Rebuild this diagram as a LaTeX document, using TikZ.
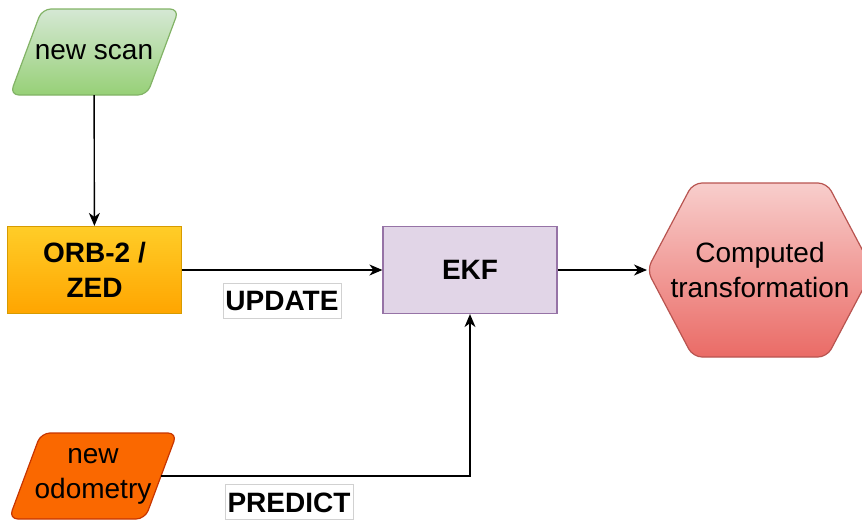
\documentclass[tikz,border=0pt]{standalone}
\usepackage{fontspec}
\setmainfont{Liberation Sans}
\usetikzlibrary{arrows.meta}
\definecolor{scantop}{HTML}{D5E8D4}
\definecolor{scanbot}{HTML}{97D077}
\definecolor{scanline}{HTML}{82B366}
\definecolor{orbtop}{HTML}{FFCD28}
\definecolor{orbbot}{HTML}{FFA500}
\definecolor{orbline}{HTML}{D79B00}
\definecolor{ekffill}{HTML}{E1D5E7}
\definecolor{ekfline}{HTML}{9673A6}
\definecolor{outtop}{HTML}{F8CECC}
\definecolor{outbot}{HTML}{EA6B66}
\definecolor{outline}{HTML}{B85450}
\definecolor{odofill}{HTML}{FA6800}
\definecolor{odoline}{HTML}{C73500}
\begin{document}
\begin{tikzpicture}[x=1pt,y=-1pt,
  every node/.style={font=\fontsize{28}{35}\selectfont, align=center},
  link/.style={line width=1.4pt, -{Stealth[length=13pt,width=11pt,inset=4pt]}},
  outlinebox/.style={rounded corners=9pt, line width=1.2pt},
  io/.style={minimum width=136, minimum height=86, inner sep=0pt},
  block/.style={rectangle, minimum width=174, minimum height=87, line width=1.2pt,
    font=\fontsize{28}{35}\selectfont\bfseries},
  tag/.style={draw=black!18, fill=white, line width=0.8pt, inner sep=0pt,
    minimum height=35, text height=20pt, text depth=0pt,
    font=\fontsize{28}{35}\selectfont\bfseries}]
  \useasboundingbox (0,0) rectangle (862,520);
  % outlines of the inputs and of the result
  \draw[outlinebox, draw=scanline, top color=scantop, bottom color=scanbot]
    (10,95) -- (42,9) -- (179,9) -- (147,95) -- cycle;
  \draw[outlinebox, draw=odoline, fill=odofill]
    (9,519) -- (41,433) -- (177,433) -- (145,519) -- cycle;
  \coordinate (outtip) at (647,270);
  \draw[outlinebox, draw=outline, top color=outtop, bottom color=outbot]
    (outtip) -- (693,183) -- (827,183) -- (873,270) -- (827,357) -- (693,357) -- cycle;
  % nodes
  \node[io] (scan) at (94,52) {new scan};
  \node[io] (odom) at (93,476) {new\\odometry};
  \node (out) at (760,270) {Computed\\transformation};
  \node[block, draw=orbline, top color=orbtop, bottom color=orbbot] (orb) at (94.5,270) {ORB-2 /\\ZED};
  \node[block, draw=ekfline, fill=ekffill] (ekf) at (470,270) {EKF};
  % connectors
  \draw[link] (scan) -- (orb);
  \draw[link] (orb) -- (ekf);
  \draw[link] (ekf) -- (outtip);
  \draw[link] (odom.east) -| (ekf.south);
  \node[tag, minimum width=118] (upd) at (282,300.5) {UPDATE};
  \node[tag, minimum width=128] (pred) at (289,502) {PREDICT};
\end{tikzpicture}
\end{document}
